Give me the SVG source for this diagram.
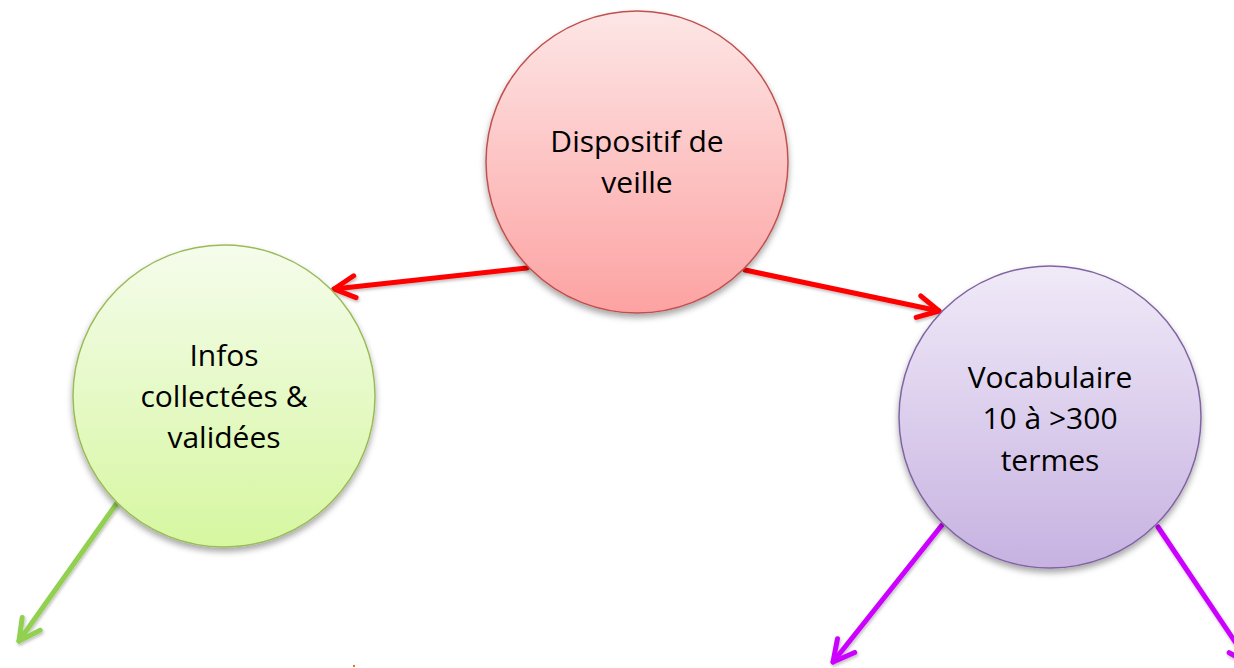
<svg xmlns="http://www.w3.org/2000/svg" width="1234" height="668" viewBox="0 0 1234 668">
  <style>
    .lbl { font-family: "Open Sans", "Liberation Sans", sans-serif; font-size: 30px; fill: #000; text-anchor: middle; }
    .conn { fill: none; stroke-width: 5; stroke-linecap: round; }
    .red { stroke: #ff0000; }
    .green { stroke: #92d050; }
    .purple { stroke: #cc00ff; }
  </style>
  <defs>
    <linearGradient id="gRed" x1="0" y1="0" x2="0" y2="1">
      <stop offset="0" stop-color="#fde6e6"/>
      <stop offset="1" stop-color="#fda2a2"/>
    </linearGradient>
    <linearGradient id="gGreen" x1="0" y1="0" x2="0" y2="1">
      <stop offset="0" stop-color="#f5fcec"/>
      <stop offset="1" stop-color="#d6f7a0"/>
    </linearGradient>
    <linearGradient id="gPurple" x1="0" y1="0" x2="0" y2="1">
      <stop offset="0" stop-color="#f0eaf8"/>
      <stop offset="1" stop-color="#c7b2e1"/>
    </linearGradient>
    <filter id="shadow" x="-20%" y="-20%" width="140%" height="150%">
      <feDropShadow dx="0" dy="4" stdDeviation="3" flood-color="#000" flood-opacity="0.35"/>
    </filter>
    <filter id="lshadow" x="-20%" y="-20%" width="140%" height="140%">
      <feDropShadow dx="1" dy="2" stdDeviation="1.5" flood-color="#000" flood-opacity="0.25"/>
    </filter>
    <marker id="arrRed" markerUnits="userSpaceOnUse" markerWidth="60" markerHeight="60" refX="0" refY="0" orient="auto" viewBox="-30 -30 60 60" overflow="visible">
      <path d="M -21,-11 L 0,0 L -21,11" fill="none" stroke="#ff0000" stroke-width="5" stroke-linecap="round" stroke-linejoin="round"/>
    </marker>
    <marker id="arrGreen" markerUnits="userSpaceOnUse" markerWidth="60" markerHeight="60" refX="0" refY="0" orient="auto" viewBox="-30 -30 60 60" overflow="visible">
      <path d="M -21,-11 L 0,0 L -21,11" fill="none" stroke="#92d050" stroke-width="5" stroke-linecap="round" stroke-linejoin="round"/>
    </marker>
    <marker id="arrPurple" markerUnits="userSpaceOnUse" markerWidth="60" markerHeight="60" refX="0" refY="0" orient="auto" viewBox="-30 -30 60 60" overflow="visible">
      <path d="M -21,-11 L 0,0 L -21,11" fill="none" stroke="#cc00ff" stroke-width="5" stroke-linecap="round" stroke-linejoin="round"/>
    </marker>
  </defs>
  <rect width="1234" height="668" fill="#ffffff"/>

  <g id="connectors" filter="url(#lshadow)">
    <line class="conn red" x1="527" y1="268" x2="334" y2="289" marker-end="url(#arrRed)"/>
    <line class="conn red" x1="745" y1="270" x2="939" y2="311" marker-end="url(#arrRed)"/>
    <line class="conn green" x1="117" y1="503" x2="19" y2="641" marker-end="url(#arrGreen)"/>
    <line class="conn purple" x1="942" y1="525" x2="833" y2="662" marker-end="url(#arrPurple)"/>
    <line class="conn purple" x1="1158" y1="527" x2="1250" y2="664" marker-end="url(#arrPurple)"/>
  </g>

  <g id="node-dispositif">
    <circle cx="637" cy="162" r="151" fill="url(#gRed)" stroke="#c0504d" stroke-width="1.5" filter="url(#shadow)"/>
    <text class="lbl" x="637" y="152">Dispositif de</text>
    <text class="lbl" x="637" y="193">veille</text>
  </g>

  <g id="node-infos">
    <circle cx="224" cy="396" r="151" fill="url(#gGreen)" stroke="#9bbb59" stroke-width="1.5" filter="url(#shadow)"/>
    <text class="lbl" x="224" y="366">Infos</text>
    <text class="lbl" x="224" y="407">collectées &amp;</text>
    <text class="lbl" x="224" y="448">validées</text>
  </g>

  <g id="node-vocabulaire">
    <circle cx="1050" cy="417" r="151" fill="url(#gPurple)" stroke="#8064a2" stroke-width="1.5" filter="url(#shadow)"/>
    <text class="lbl" x="1050" y="388">Vocabulaire</text>
    <text class="lbl" x="1050" y="429">10 à &gt;300</text>
    <text class="lbl" x="1050" y="471">termes</text>
  </g>

  <rect x="353" y="665" width="2" height="2" fill="#e8750f"/>
</svg>
